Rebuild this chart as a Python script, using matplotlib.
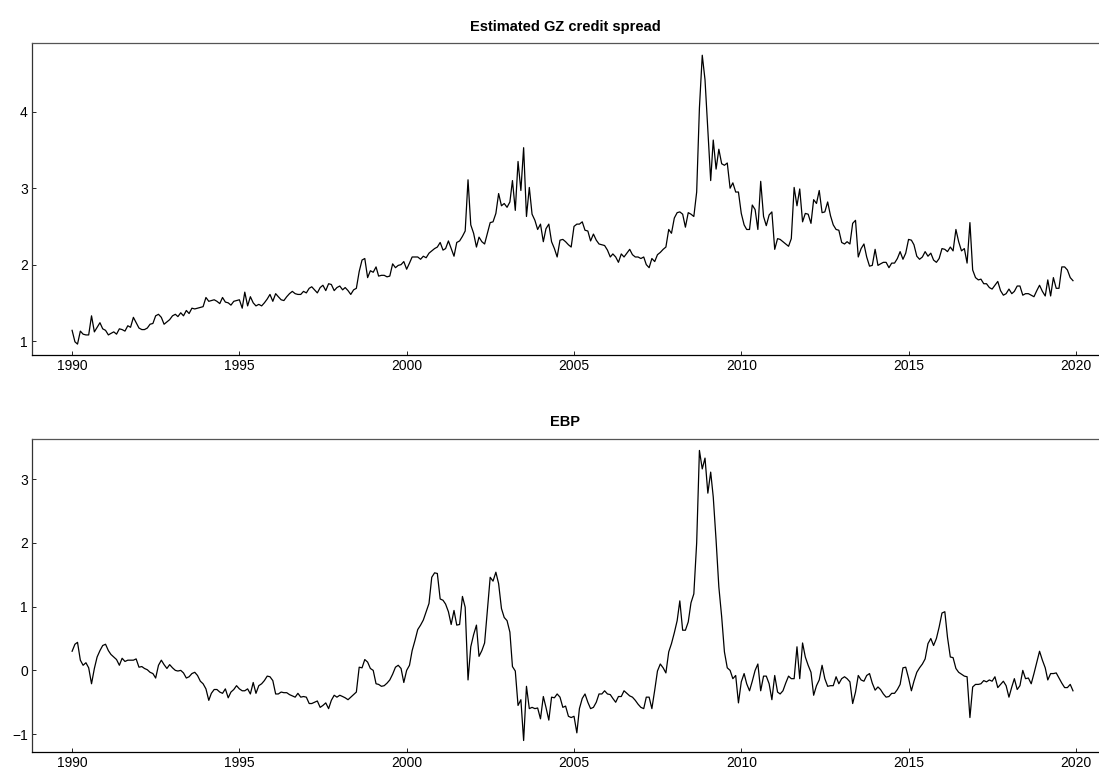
import pandas as pd
import matplotlib
matplotlib.use("Agg")
import matplotlib.pyplot as plt
import matplotlib.dates as mdates
from matplotlib.ticker import MultipleLocator

plt.rcParams['font.family'] = ['Liberation Sans', 'DejaVu Sans']

# monthly observations, Jan 1990 - Dec 2019
dates = pd.date_range('1990-01-01', periods=360, freq='MS')

gz_spread = [
    # 1990
    1.14, 0.99, 0.96, 1.13, 1.09, 1.08, 1.08, 1.33, 1.12, 1.18, 1.24, 1.16,
    # 1991
    1.14, 1.08, 1.10, 1.12, 1.09, 1.16, 1.15, 1.13, 1.20, 1.18, 1.31, 1.24,
    # 1992
    1.17, 1.15, 1.15, 1.17, 1.22, 1.23, 1.33, 1.35, 1.31, 1.22, 1.25, 1.28,
    # 1993
    1.33, 1.35, 1.32, 1.37, 1.33, 1.40, 1.36, 1.43, 1.42, 1.43, 1.44, 1.45,
    # 1994
    1.57, 1.52, 1.53, 1.54, 1.52, 1.49, 1.57, 1.51, 1.50, 1.47, 1.52, 1.53,
    # 1995
    1.54, 1.43, 1.64, 1.46, 1.58, 1.50, 1.46, 1.48, 1.46, 1.50, 1.55, 1.61,
    # 1996
    1.52, 1.62, 1.58, 1.54, 1.53, 1.58, 1.62, 1.65, 1.62, 1.61, 1.61, 1.65,
    # 1997
    1.63, 1.69, 1.71, 1.67, 1.63, 1.70, 1.73, 1.66, 1.75, 1.74, 1.66, 1.70,
    # 1998
    1.72, 1.67, 1.70, 1.66, 1.61, 1.67, 1.69, 1.91, 2.06, 2.08, 1.83, 1.92,
    # 1999
    1.90, 1.97, 1.85, 1.86, 1.86, 1.84, 1.85, 2.01, 1.96, 1.99, 2.00, 2.04,
    # 2000
    1.94, 2.02, 2.10, 2.10, 2.10, 2.07, 2.11, 2.09, 2.15, 2.18, 2.21, 2.23,
    # 2001
    2.29, 2.19, 2.21, 2.31, 2.21, 2.11, 2.29, 2.31, 2.37, 2.44, 3.11, 2.52,
    # 2002
    2.41, 2.23, 2.36, 2.30, 2.27, 2.41, 2.55, 2.56, 2.67, 2.93, 2.77, 2.80,
    # 2003
    2.75, 2.82, 3.10, 2.71, 3.35, 2.97, 3.53, 2.63, 3.01, 2.66, 2.58, 2.46,
    # 2004
    2.53, 2.30, 2.47, 2.53, 2.30, 2.21, 2.10, 2.32, 2.33, 2.30, 2.26, 2.23,
    # 2005
    2.50, 2.53, 2.53, 2.56, 2.45, 2.44, 2.31, 2.40, 2.32, 2.27, 2.26, 2.25,
    # 2006
    2.19, 2.10, 2.14, 2.10, 2.03, 2.14, 2.10, 2.15, 2.20, 2.13, 2.10, 2.10,
    # 2007
    2.08, 2.10, 2.00, 1.96, 2.08, 2.04, 2.13, 2.16, 2.20, 2.23, 2.46, 2.41,
    # 2008
    2.61, 2.68, 2.69, 2.66, 2.49, 2.68, 2.66, 2.63, 2.95, 4.05, 4.74, 4.42,
    # 2009
    3.76, 3.10, 3.63, 3.25, 3.51, 3.32, 3.30, 3.33, 3.00, 3.07, 2.95, 2.95,
    # 2010
    2.67, 2.52, 2.46, 2.46, 2.78, 2.72, 2.46, 3.09, 2.63, 2.51, 2.65, 2.69,
    # 2011
    2.20, 2.34, 2.33, 2.30, 2.27, 2.24, 2.34, 3.01, 2.77, 2.99, 2.56, 2.67,
    # 2012
    2.66, 2.54, 2.85, 2.80, 2.97, 2.68, 2.69, 2.82, 2.64, 2.52, 2.46, 2.45,
    # 2013
    2.29, 2.27, 2.30, 2.27, 2.54, 2.58, 2.10, 2.21, 2.27, 2.10, 1.98, 1.99,
    # 2014
    2.20, 1.99, 2.01, 2.03, 2.03, 1.96, 2.02, 2.02, 2.08, 2.17, 2.07, 2.15,
    # 2015
    2.33, 2.32, 2.26, 2.11, 2.07, 2.10, 2.17, 2.11, 2.15, 2.06, 2.03, 2.08,
    # 2016
    2.21, 2.20, 2.17, 2.23, 2.18, 2.46, 2.30, 2.18, 2.21, 2.02, 2.55, 1.93,
    # 2017
    1.83, 1.80, 1.81, 1.75, 1.75, 1.70, 1.68, 1.73, 1.78, 1.66, 1.60, 1.62,
    # 2018
    1.68, 1.62, 1.65, 1.72, 1.72, 1.60, 1.62, 1.62, 1.60, 1.58, 1.66, 1.73,
    # 2019
    1.65, 1.59, 1.80, 1.59, 1.83, 1.69, 1.69, 1.97, 1.97, 1.93, 1.83, 1.79,
]

ebp = [
    # 1990
    0.30, 0.41, 0.44, 0.16, 0.08, 0.12, 0.04, -0.21, 0.03, 0.21, 0.31, 0.39,
    # 1991
    0.41, 0.31, 0.25, 0.21, 0.17, 0.08, 0.19, 0.14, 0.16, 0.16, 0.16, 0.18,
    # 1992
    0.05, 0.06, 0.03, 0.01, -0.03, -0.05, -0.12, 0.08, 0.16, 0.09, 0.03, 0.09,
    # 1993
    0.04, 0.00, -0.01, 0.00, -0.04, -0.12, -0.10, -0.05, -0.03, -0.08, -0.17, -0.21,
    # 1994
    -0.29, -0.47, -0.36, -0.30, -0.30, -0.34, -0.36, -0.29, -0.43, -0.34, -0.30, -0.24,
    # 1995
    -0.29, -0.32, -0.32, -0.29, -0.37, -0.19, -0.36, -0.24, -0.21, -0.16, -0.09, -0.10,
    # 1996
    -0.16, -0.37, -0.37, -0.34, -0.35, -0.35, -0.38, -0.40, -0.42, -0.36, -0.42, -0.41,
    # 1997
    -0.42, -0.52, -0.52, -0.50, -0.48, -0.58, -0.55, -0.51, -0.60, -0.47, -0.39, -0.42,
    # 1998
    -0.39, -0.41, -0.43, -0.46, -0.42, -0.38, -0.34, 0.05, 0.04, 0.17, 0.13, 0.03,
    # 1999
    0.00, -0.21, -0.22, -0.25, -0.24, -0.20, -0.15, -0.06, 0.05, 0.08, 0.03, -0.19,
    # 2000
    0.00, 0.08, 0.31, 0.47, 0.64, 0.71, 0.79, 0.92, 1.05, 1.46, 1.53, 1.52,
    # 2001
    1.12, 1.10, 1.04, 0.92, 0.72, 0.94, 0.71, 0.72, 1.16, 0.99, -0.15, 0.37,
    # 2002
    0.56, 0.71, 0.22, 0.31, 0.43, 0.95, 1.46, 1.40, 1.54, 1.36, 0.97, 0.83,
    # 2003
    0.78, 0.60, 0.06, -0.01, -0.55, -0.46, -1.10, -0.25, -0.60, -0.58, -0.60, -0.59,
    # 2004
    -0.76, -0.41, -0.58, -0.78, -0.42, -0.43, -0.37, -0.42, -0.58, -0.56, -0.72, -0.74,
    # 2005
    -0.72, -0.98, -0.60, -0.44, -0.37, -0.50, -0.60, -0.58, -0.50, -0.37, -0.37, -0.32,
    # 2006
    -0.37, -0.38, -0.44, -0.50, -0.41, -0.41, -0.32, -0.36, -0.40, -0.42, -0.47, -0.53,
    # 2007
    -0.58, -0.60, -0.42, -0.42, -0.60, -0.31, -0.01, 0.10, 0.04, -0.04, 0.29, 0.42,
    # 2008
    0.59, 0.78, 1.09, 0.63, 0.63, 0.76, 1.06, 1.20, 2.00, 3.45, 3.16, 3.33,
    # 2009
    2.78, 3.11, 2.72, 2.04, 1.31, 0.84, 0.29, 0.04, 0.00, -0.13, -0.08, -0.51,
    # 2010
    -0.18, -0.05, -0.21, -0.32, -0.17, 0.00, 0.10, -0.32, -0.09, -0.09, -0.21, -0.46,
    # 2011
    -0.08, -0.34, -0.37, -0.32, -0.20, -0.09, -0.13, -0.13, 0.37, -0.13, 0.43, 0.21,
    # 2012
    0.08, -0.03, -0.39, -0.24, -0.15, 0.08, -0.13, -0.25, -0.24, -0.24, -0.10, -0.21,
    # 2013
    -0.13, -0.10, -0.13, -0.18, -0.52, -0.34, -0.08, -0.15, -0.17, -0.08, -0.05, -0.20,
    # 2014
    -0.31, -0.26, -0.30, -0.37, -0.42, -0.41, -0.36, -0.36, -0.30, -0.22, 0.04, 0.05,
    # 2015
    -0.12, -0.32, -0.17, -0.03, 0.04, 0.10, 0.18, 0.42, 0.50, 0.39, 0.50, 0.68,
    # 2016
    0.90, 0.92, 0.52, 0.21, 0.20, 0.03, -0.03, -0.06, -0.09, -0.10, -0.74, -0.26,
    # 2017
    -0.22, -0.22, -0.21, -0.16, -0.18, -0.15, -0.17, -0.10, -0.27, -0.22, -0.17, -0.24,
    # 2018
    -0.42, -0.26, -0.13, -0.30, -0.24, 0.00, -0.13, -0.12, -0.21, -0.05, 0.13, 0.30,
    # 2019
    0.16, 0.04, -0.15, -0.05, -0.05, -0.04, -0.12, -0.20, -0.27, -0.27, -0.22, -0.32,
]

titles = ['Estimated GZ credit spread', 'EBP']
series = [gz_spread, ebp]
ylims = [(0.817, 4.90), (-1.28, 3.63)]

fig = plt.figure(figsize=(10.99, 7.75), dpi=100)
ax1 = fig.add_axes([0.0291, 0.5419, 0.9709, 0.4026])
ax2 = fig.add_axes([0.0291, 0.0297, 0.9709, 0.4039])

for ax, title, values, ylim in zip([ax1, ax2], titles, series, ylims):
    ax.plot(dates, values, color='black', linewidth=0.9)
    ax.set_title(title, fontsize=10.5, fontweight='bold', pad=9)
    ax.set_xlim(pd.Timestamp('1988-10-20'), pd.Timestamp('2020-09-10'))
    ax.set_ylim(*ylim)
    ax.yaxis.set_major_locator(MultipleLocator(1))
    ax.xaxis.set_major_locator(mdates.YearLocator(5))
    ax.xaxis.set_major_formatter(mdates.DateFormatter('%Y'))
    ax.tick_params(direction='in', length=3, width=0.6, labelsize=10, pad=3)
    ax.spines['right'].set_visible(False)
    ax.spines['top'].set_color('#555555')
    ax.spines['left'].set_color('#333333')
    ax.spines['bottom'].set_color('black')
    for side in ['top', 'left', 'bottom']:
        ax.spines[side].set_linewidth(0.9)

fig.savefig('out.png', dpi=100)
